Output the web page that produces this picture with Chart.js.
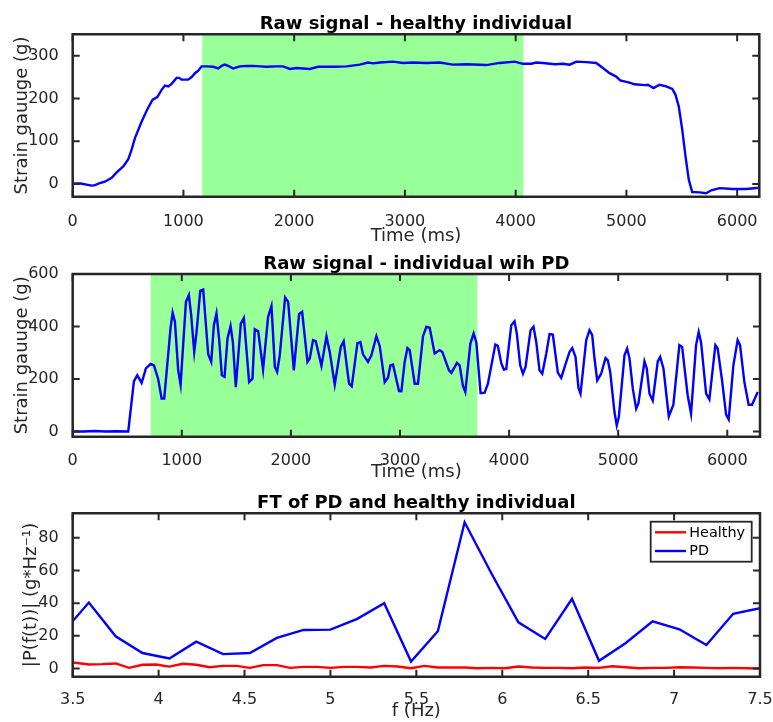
<!DOCTYPE html>
<html><head><meta charset="utf-8">
<script src="https://cdn.jsdelivr.net/npm/chart.js@4"></script>
<style>
html,body{margin:0;padding:0;background:#fff;}
body{width:773px;height:722px;position:relative;overflow:hidden;}
canvas{position:absolute;left:0;top:0;}
</style>
</head><body>
<canvas id="c1" width="773" height="722"></canvas>
<canvas id="c2" width="773" height="722"></canvas>
<canvas id="c3" width="773" height="722"></canvas>
<script>
// ---------- data ----------
const healthyTime = [0, 72, 171, 202, 246, 291, 352, 397, 457, 502, 532, 562, 623, 673, 722, 764, 803, 833, 863, 893, 938, 962, 983, 1043, 1074, 1104, 1134, 1164, 1209, 1269, 1314, 1344, 1374, 1404, 1449, 1510, 1570, 1630, 1690, 1750, 1840, 1900, 1961, 2021, 2141, 2216, 2352, 2472, 2592, 2667, 2713, 2773, 2893, 2983, 3073, 3193, 3313, 3434, 3554, 3735, 3855, 3991, 4066, 4141, 4187, 4247, 4352, 4428, 4488, 4548, 4638, 4728, 4788, 4848, 4908, 4944, 5028, 5073, 5164, 5194, 5245, 5299, 5359, 5414, 5443, 5473, 5504, 5534, 5563, 5594, 5660, 5720, 5766, 5841, 5961, 6081, 6200];
const healthyForce = [1, 1, -4, -3, 2, 5, 14, 27, 41, 58, 80, 107, 146, 174, 197, 203, 220, 230, 228, 234, 248, 248, 244, 244, 250, 259, 265, 275, 275, 274, 270, 276, 279, 276, 270, 275, 276, 276, 275, 274, 275, 275, 269, 271, 269, 274, 274, 275, 279, 284, 282, 284, 286, 283, 284, 283, 284, 279, 280, 278, 283, 286, 281, 281, 284, 283, 280, 281, 279, 286, 285, 283, 271, 259, 251, 242, 237, 233, 231, 232, 224, 232, 228, 222, 209, 181, 127, 64, 10, -19, -20, -22, -15, -10, -12, -12, -9];
const healthyWindow = [1170, 4070];

const pdTime = [5, 100, 200, 300, 400, 509, 561, 592, 632, 671, 714, 745, 784, 815, 839, 897, 916, 937, 967, 989, 1038, 1065, 1086, 1114, 1135, 1169, 1196, 1242, 1270, 1294, 1318, 1343, 1367, 1392, 1419, 1447, 1468, 1495, 1541, 1569, 1617, 1648, 1669, 1700, 1745, 1791, 1822, 1853, 1874, 1898, 1947, 1975, 2027, 2075, 2103, 2152, 2173, 2203, 2228, 2280, 2326, 2356, 2402, 2457, 2484, 2533, 2558, 2610, 2637, 2661, 2707, 2738, 2784, 2814, 2860, 2890, 2912, 2936, 2991, 3013, 3043, 3068, 3089, 3135, 3165, 3211, 3242, 3272, 3318, 3364, 3388, 3449, 3471, 3522, 3547, 3577, 3599, 3645, 3675, 3700, 3739, 3776, 3806, 3874, 3897, 3929, 3952, 3974, 4020, 4050, 4071, 4102, 4127, 4151, 4197, 4224, 4249, 4279, 4304, 4341, 4371, 4401, 4447, 4478, 4524, 4554, 4579, 4609, 4636, 4655, 4707, 4737, 4762, 4783, 4808, 4844, 4884, 4905, 4927, 4966, 4987, 5006, 5058, 5082, 5104, 5134, 5165, 5186, 5241, 5262, 5287, 5317, 5363, 5385, 5415, 5464, 5506, 5561, 5586, 5637, 5668, 5714, 5738, 5760, 5806, 5836, 5891, 5912, 5952, 5989, 6013, 6056, 6095, 6117, 6157, 6196, 6227, 6279];
const pdForce = [0, 0, 2, 0, 1, 0, 191, 214, 185, 240, 257, 252, 199, 125, 125, 395, 453, 418, 233, 178, 494, 520, 443, 303, 377, 536, 541, 294, 265, 405, 450, 348, 214, 208, 354, 402, 341, 169, 411, 433, 188, 201, 390, 383, 236, 437, 478, 246, 227, 290, 511, 494, 233, 447, 456, 265, 278, 348, 344, 250, 363, 303, 178, 322, 344, 182, 172, 337, 341, 294, 265, 290, 363, 326, 188, 205, 252, 255, 154, 153, 265, 318, 310, 182, 182, 363, 399, 395, 297, 310, 303, 233, 223, 261, 252, 173, 150, 335, 373, 339, 146, 148, 182, 331, 326, 259, 236, 238, 405, 420, 373, 252, 220, 246, 386, 399, 341, 233, 220, 297, 371, 369, 224, 204, 265, 303, 318, 284, 166, 144, 348, 386, 367, 278, 195, 220, 280, 271, 227, 74, 23, 55, 290, 316, 278, 163, 87, 108, 267, 240, 144, 118, 267, 284, 240, 57, 102, 329, 322, 138, 68, 329, 379, 339, 144, 122, 329, 316, 195, 64, 46, 252, 348, 329, 188, 102, 102, 150];
const pdWindow = [715, 3710];

const ftHealthyFreq = [3.438, 3.516, 3.594, 3.672, 3.750, 3.828, 3.906, 3.984, 4.063, 4.141, 4.219, 4.297, 4.375, 4.453, 4.531, 4.609, 4.688, 4.766, 4.844, 4.922, 5.000, 5.078, 5.156, 5.234, 5.313, 5.391, 5.469, 5.547, 5.625, 5.703, 5.781, 5.859, 5.938, 6.016, 6.094, 6.172, 6.250, 6.328, 6.406, 6.484, 6.563, 6.641, 6.719, 6.797, 6.875, 6.953, 7.031, 7.109, 7.188, 7.266, 7.344, 7.422, 7.500];
const ftHealthy = [4.0, 3.5, 2.5, 2.7, 3.1, 0.4, 2.3, 2.5, 1.2, 2.9, 2.3, 0.8, 1.6, 1.6, 0.4, 2.1, 2.1, 0.4, 1.0, 1.0, 0.4, 1.0, 1.0, 0.6, 1.6, 1.2, 0.2, 1.6, 0.6, 0.6, 0.6, 0.2, 0.4, 0.2, 1.2, 0.6, 0.4, 0.4, 0.2, 0.6, 0.4, 1.4, 0.8, 0.2, 0.4, 0.4, 0.8, 0.6, 0.4, 0.2, 0.4, 0.2, 0.0];
const ftPdFreq = [3.438, 3.594, 3.750, 3.906, 4.063, 4.219, 4.375, 4.531, 4.688, 4.844, 5.000, 5.156, 5.313, 5.469, 5.625, 5.781, 5.938, 6.094, 6.250, 6.406, 6.563, 6.719, 6.875, 7.031, 7.188, 7.344, 7.500];
const ftPd = [21.4, 40.4, 19.7, 9.5, 6.2, 16.4, 8.8, 9.5, 18.7, 23.6, 23.8, 30.4, 40.0, 4.3, 22.8, 89.5, 58.0, 28.3, 18.1, 42.7, 4.7, 15.6, 28.9, 24.0, 14.4, 33.5, 36.9];

const timeTicks = [0, 1000, 2000, 3000, 4000, 5000, 6000];
const healthyYTicks = [0, 100, 200, 300];
const pdYTicks = [0, 200, 400, 600];
const freqTicks = [3.5, 4, 4.5, 5, 5.5, 6, 6.5, 7, 7.5];
const ftYTicks = [0, 20, 40, 60, 80];

// ---------- styling ----------
const FONT = "'DejaVu Sans', sans-serif";
const INK = '#262626';

const toXY = (xs, ys) => xs.map((x, i) => ({x: x, y: ys[i]}));

function drawFrame(chart) {
  const {ctx, chartArea: a, scales: {x, y}} = chart;
  ctx.save();
  ctx.globalAlpha = 1;
  ctx.globalCompositeOperation = 'source-over';
  ctx.strokeStyle = INK;
  ctx.lineCap = 'butt';
  const L = 7;
  ctx.lineWidth = 2;
  ctx.beginPath();
  x.ticks.forEach(t => {
    const px = x.getPixelForValue(t.value);
    ctx.moveTo(px, a.bottom); ctx.lineTo(px, a.bottom - L);
    ctx.moveTo(px, a.top); ctx.lineTo(px, a.top + L);
  });
  y.ticks.forEach(t => {
    const py = y.getPixelForValue(t.value);
    ctx.moveTo(a.left, py); ctx.lineTo(a.left + L, py);
    ctx.moveTo(a.right, py); ctx.lineTo(a.right - L, py);
  });
  ctx.stroke();
  ctx.lineWidth = 2.5;
  ctx.beginPath();
  ctx.rect(a.left, a.top, a.right - a.left, a.bottom - a.top);
  ctx.stroke();
  ctx.restore();
}

const framePlugin = {
  id: 'frame',
  beforeDatasetsDraw(chart, args, opts) {
    if (!opts.shade) return;
    const {ctx, chartArea: a, scales: {x}} = chart;
    const x0 = x.getPixelForValue(opts.shade[0]);
    const x1 = x.getPixelForValue(opts.shade[1]);
    ctx.save();
    ctx.fillStyle = '#99ff99';
    ctx.fillRect(x0, a.top, x1 - x0, a.bottom - a.top);
    ctx.restore();
  },
  afterDraw(chart, args, opts) {
    const {ctx, chartArea: a} = chart;
    drawFrame(chart);
    ctx.save();
    ctx.fillStyle = '#000';
    ctx.font = 'bold 18px ' + FONT;
    ctx.textAlign = 'center';
    ctx.textBaseline = 'alphabetic';
    ctx.fillText(opts.title, (a.left + a.right) / 2, a.top - 5);
    if (opts.legend) {
      const bw = 101, bh = 40;
      const bx = a.right - 8.3 - bw, by = a.top + 8.4;
      ctx.fillStyle = '#fff';
      ctx.fillRect(bx, by, bw, bh);
      ctx.lineWidth = 1.8;
      ctx.strokeStyle = INK;
      ctx.strokeRect(bx, by, bw, bh);
      ctx.font = '14.4px ' + FONT;
      ctx.textAlign = 'left';
      ctx.textBaseline = 'middle';
      chart.data.datasets.forEach((ds, i) => {
        const ry = by + 10.6 + i * 18.7;
        ctx.strokeStyle = ds.borderColor;
        ctx.lineWidth = 2.4;
        ctx.beginPath();
        ctx.moveTo(bx + 4.3, ry); ctx.lineTo(bx + 35.3, ry);
        ctx.stroke();
        ctx.fillStyle = '#000';
        ctx.fillText(ds.label, bx + 38.6, ry + 0.5);
      });
    }
    ctx.restore();
  }
};

function makeChart(id, cfg) {
  return new Chart(document.getElementById(id), {
    type: 'line',
    data: {datasets: cfg.datasets.map(d => Object.assign({
      borderWidth: 2.4, pointRadius: 0, tension: 0, fill: false, clip: 0
    }, d))},
    options: {
      responsive: false,
      animation: false,
      events: [],
      layout: {padding: {left: 0, right: 773 - cfg.area.right, top: cfg.area.top,
                         bottom: 722 - cfg.area.bottom - cfg.xAxisH}},
      plugins: {
        legend: {display: false},
        tooltip: {enabled: false},
        frame: {title: cfg.title, shade: cfg.shade, legend: cfg.legend}
      },
      scales: {
        x: {
          type: 'linear', position: 'bottom', min: cfg.xMin, max: cfg.xMax, bounds: 'data',
          grid: {display: false}, border: {display: false},
          ticks: {font: {family: FONT, size: 16}, color: INK, padding: cfg.xPad,
                  maxRotation: 0, autoSkip: false, callback: v => String(v)},
          afterBuildTicks: s => { s.ticks = cfg.xTicks.map(v => ({value: v})); },
          afterFit: s => { s.height = cfg.xAxisH; s.paddingLeft = 0; s.paddingRight = 0; },
          title: {display: true, text: cfg.xTitle, font: {family: FONT, size: 18}, color: INK,
                  padding: {top: 0, bottom: 0}}
        },
        y: {
          type: 'linear', position: 'left', min: cfg.yMin, max: cfg.yMax, bounds: 'data',
          grid: {display: false}, border: {display: false},
          ticks: {font: {family: FONT, size: 16}, color: INK, padding: 6,
                  autoSkip: false, callback: v => String(v)},
          afterBuildTicks: s => { s.ticks = cfg.yTicks.map(v => ({value: v})); },
          afterFit: s => { s.width = 72.7; s.paddingTop = 0; s.paddingBottom = 0; },
          title: {display: true, text: cfg.yTitle, font: {family: FONT, size: 18}, color: INK,
                  padding: {top: cfg.yTitlePad, bottom: 0}}
        }
      }
    },
    plugins: [framePlugin]
  });
}

makeChart('c1', {
  title: 'Raw signal - healthy individual',
  area: {top: 34.3, right: 759.3, bottom: 196.7}, xAxisH: 50.1, xPad: 8,
  xMin: 0, xMax: 6200, yMin: -30, yMax: 350,
  xTicks: timeTicks, yTicks: healthyYTicks,
  xTitle: 'Time (ms)', yTitle: 'Strain gauuge (g)', yTitlePad: 11.2,
  shade: healthyWindow,
  datasets: [{label: 'Healthy', data: toXY(healthyTime, healthyForce), borderColor: '#0000ff'}]
});

makeChart('c2', {
  title: 'Raw signal - individual wih PD',
  area: {top: 274, right: 760, bottom: 436.7}, xAxisH: 46.1, xPad: 7,
  xMin: 0, xMax: 6300, yMin: -20, yMax: 600,
  xTicks: timeTicks, yTicks: pdYTicks,
  xTitle: 'Time (ms)', yTitle: 'Strain gauuge (g)', yTitlePad: 11.2,
  shade: pdWindow,
  datasets: [{label: 'PD', data: toXY(pdTime, pdForce), borderColor: '#0000ff'}]
});

makeChart('c3', {
  title: 'FT of PD and healthy individual',
  area: {top: 513.3, right: 760, bottom: 676.7}, xAxisH: 45, xPad: 6,
  xMin: 3.5, xMax: 7.5, yMin: -5, yMax: 95,
  xTicks: freqTicks, yTicks: ftYTicks,
  xTitle: 'f (Hz)', yTitle: '|P(f(t))| (g*Hz\u207B\u00B9)', yTitlePad: 20.5,
  legend: true,
  datasets: [
    {label: 'Healthy', data: toXY(ftHealthyFreq, ftHealthy), borderColor: '#ff0000'},
    {label: 'PD', data: toXY(ftPdFreq, ftPd), borderColor: '#0000ff'}
  ]
});
</script>
</body></html>
